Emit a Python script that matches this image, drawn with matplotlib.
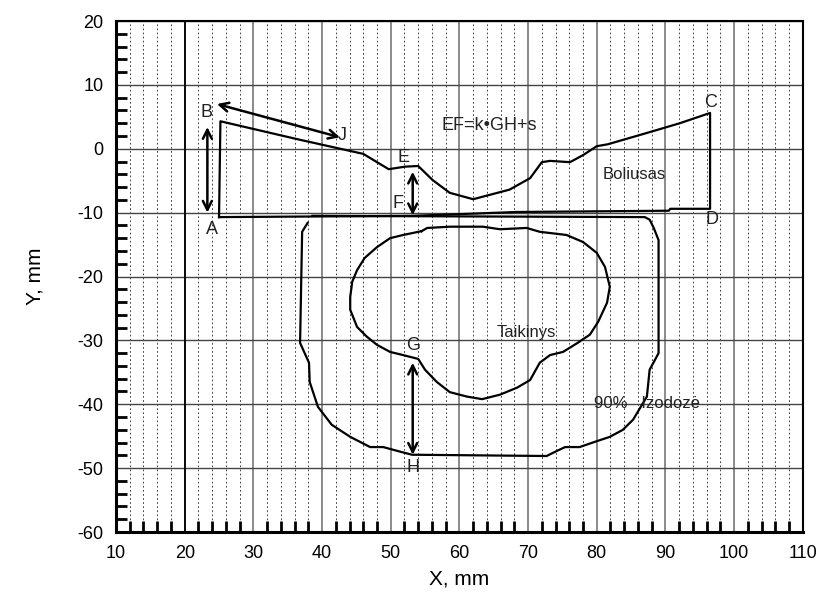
import matplotlib.pyplot as plt
from matplotlib.ticker import MultipleLocator

plt.rcParams['font.family'] = ['Liberation Sans', 'DejaVu Sans']
plt.rcParams['axes.unicode_minus'] = False

# Bolus outline A-B-...-C-D-A
bolus_x = [25.0, 25.2, 36.8, 46.0, 49.7, 52.1, 54.0, 56.1, 58.6, 62.0, 67.3, 70.3,
           72.0, 73.2, 76.1, 78.0, 80.0, 81.6, 87.7, 92.1, 96.5, 96.5, 90.7, 90.5,
           68.4, 53.2, 25.0, 25.0]
bolus_y = [-10.7, 4.3, 1.4, -0.8, -3.2, -2.8, -2.7, -4.9, -6.9, -7.9, -6.4, -4.6,
           -2.1, -1.9, -2.1, -1.0, 0.4, 0.7, 2.6, 4.0, 5.6, -9.4, -9.4, -9.7,
           -9.9, -10.5, -10.7, -10.7]

# 90 % isodose contour
iso_x = [37.9, 37.1, 36.8, 38.1, 38.2, 39.4, 41.4, 44.1, 47.0, 48.9, 51.3, 53.1,
         72.7, 74.2, 75.4, 77.5, 79.4, 81.9, 83.8, 85.3, 86.3, 87.3, 87.7, 89.0,
         89.0, 88.3, 87.7, 87.0, 38.6]
iso_y = [-11.6, -13.0, -30.4, -33.5, -36.5, -40.4, -43.2, -45.1, -46.7, -46.7, -47.4, -47.9,
         -48.1, -47.3, -46.7, -46.7, -46.0, -45.1, -44.0, -42.4, -40.6, -38.8, -34.6, -32.0,
         -14.3, -12.4, -11.1, -10.7, -10.5]

# target contour
target_x = [54.5, 51.8, 49.9, 48.0, 46.2, 45.1, 44.4, 44.1, 44.1, 45.1, 46.5, 48.0,
            49.9, 51.8, 54.0, 55.0, 56.7, 58.6, 61.1, 63.3, 65.9, 68.4, 70.3, 71.7,
            73.2, 75.1, 77.2, 79.0, 80.2, 81.5, 81.9, 81.2, 80.0, 78.0, 75.6, 71.7,
            69.8, 65.9, 63.4, 58.6, 55.3]
target_y = [-12.9, -13.5, -14.0, -15.4, -17.1, -19.0, -20.8, -23.2, -25.2, -27.9, -29.4, -30.7,
            -31.8, -32.3, -32.9, -34.6, -36.5, -38.1, -38.8, -39.2, -38.5, -37.4, -36.2, -33.5,
            -32.3, -31.8, -30.4, -29.1, -27.1, -24.1, -21.6, -18.5, -16.3, -14.6, -13.5, -13.0,
            -12.4, -12.6, -12.2, -12.2, -12.4]

# double arrows: (x0, y0, x1, y1)
arrows = {
    'AB': (23.3, -10.0, 23.3, 3.4),
    'BJ': (24.7, 7.0, 42.6, 1.8),
    'EF': (53.2, -10.4, 53.2, -3.6),
    'GH': (53.2, -47.9, 53.2, -33.5),
}

# point letters
letters = [('A', 24.0, -12.7), ('B', 23.2, 5.6), ('C', 96.5, 7.2), ('D', 96.8, -11.0),
           ('E', 51.8, -1.3), ('F', 51.0, -8.6), ('G', 53.2, -30.8), ('H', 53.2, -49.9),
           ('J', 43.0, 2.0)]

fig = plt.figure(figsize=(8.2, 6.0), dpi=100)
ax = fig.add_axes([0.1415, 0.1133, 0.8375, 0.8517])

ax.set_xlim(10, 110)
ax.set_ylim(-60, 20)
ax.xaxis.set_major_locator(MultipleLocator(10))
ax.yaxis.set_major_locator(MultipleLocator(10))
ax.xaxis.set_minor_locator(MultipleLocator(2))
ax.yaxis.set_minor_locator(MultipleLocator(2))

ax.grid(which='major', axis='y', color='#444444', lw=1.0, ls='-')
ax.grid(which='major', axis='x', color='#777777', lw=1.2, ls='-')
ax.grid(which='minor', axis='x', color='#444444', lw=0.7, ls=(0, (1.8, 2.4)))
ax.axvline(20, color='black', lw=1.3, zorder=1)
ax.set_axisbelow(True)

ax.tick_params(which='both', direction='in', top=False, right=False,
               labelsize=13, width=2)
ax.tick_params(which='major', length=0, pad=9)
ax.tick_params(which='minor', length=8)
for side in ['left', 'bottom']:
    ax.spines[side].set_linewidth(2.2)
for side in ['top', 'right']:
    ax.spines[side].set_linewidth(1.5)

ax.plot(bolus_x, bolus_y, color='black', lw=1.6)
ax.plot(iso_x, iso_y, color='black', lw=1.6)
ax.plot(target_x + target_x[:1], target_y + target_y[:1], color='black', lw=1.6)

for key, (x0, y0, x1, y1) in arrows.items():
    ax.annotate('', xy=(x1, y1), xytext=(x0, y0),
                arrowprops=dict(arrowstyle='<->', lw=1.8, color='black',
                                mutation_scale=16, shrinkA=0, shrinkB=0))

for name, x, y in letters:
    ax.text(x, y, name, fontsize=13, ha='center', va='center', color='#222222')

ax.text(64.3, 3.7, 'EF=k•GH+s', fontsize=13, ha='center', va='center', color='#222222')
ax.text(85.5, -4.1, 'Boliusas', fontsize=12, ha='center', va='center', color='#222222')
ax.text(69.8, -28.8, 'Taikinys', fontsize=12, ha='center', va='center', color='#222222')
ax.text(79.6, -39.9, '90%   Izodozė', fontsize=12, ha='left', va='center', color='#222222')

ax.set_xlabel('X, mm', fontsize=15, labelpad=6)
ax.set_ylabel('Y, mm', fontsize=15, labelpad=24)

fig.savefig('out.png', dpi=100)
